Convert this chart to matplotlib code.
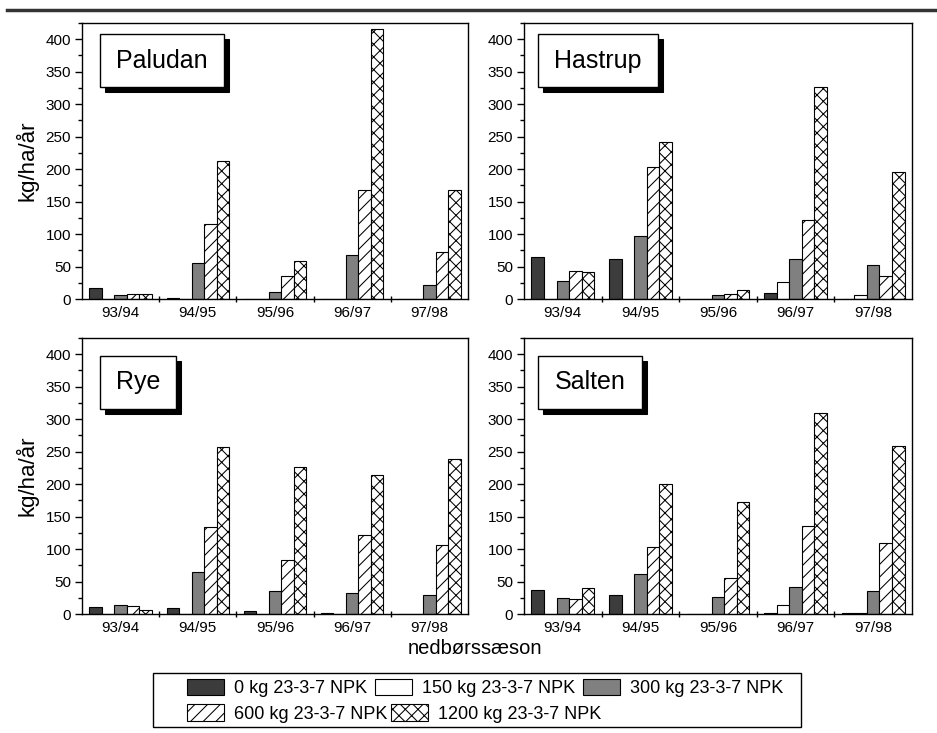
import matplotlib
matplotlib.use("Agg")
import matplotlib.pyplot as plt
import numpy as np
from matplotlib.patches import Rectangle, Patch
from matplotlib.ticker import MultipleLocator, FixedLocator

# hatch cells scale with dpi, so a lower dpi gives coarser hatching;
# S converts sizes tuned at 100 dpi to this dpi
DPI = 76
S = 100 / DPI

plt.rcParams['font.family'] = ['Liberation Sans', 'DejaVu Sans']
plt.rcParams['hatch.linewidth'] = 0.75 * S

seasons = ["93/94", "94/95", "95/96", "96/97", "97/98"]
treatments = ["0 kg 23-3-7 NPK", "150 kg 23-3-7 NPK", "300 kg 23-3-7 NPK",
              "600 kg 23-3-7 NPK", "1200 kg 23-3-7 NPK"]

# kg/ha/år per season, one list per fertiliser level
paludan = [
    [17, 1, 0, 0, 0],
    [0, 0, 0, 0, 0],
    [6, 56, 11, 68, 22],
    [8, 115, 36, 168, 72],
    [7, 212, 58, 415, 168],
]
hastrup = [
    [65, 61, 0, 9, 0],
    [0, 0, 0, 26, 6],
    [27, 97, 6, 62, 52],
    [43, 204, 8, 122, 35],
    [41, 241, 14, 327, 195],
]
rye = [
    [11, 10, 5, 1, 0],
    [0, 0, 0, 0, 0],
    [14, 65, 35, 33, 30],
    [12, 134, 83, 122, 106],
    [6, 257, 226, 214, 239],
]
salten = [
    [37, 30, 0.5, 1, 1],
    [0, 0, 0, 14, 1],
    [25, 61, 26, 41, 35],
    [23, 103, 56, 135, 110],
    [40, 200, 172, 310, 258],
]

sites = ["Paludan", "Hastrup", "Rye", "Salten"]
site_data = [paludan, hastrup, rye, salten]

facecolors = ["#3c3c3c", "white", "#808080", "white", "white"]
hatches = [None, None, None, "//", "xx"]

W, H = 937, 733
fig = plt.figure(figsize=(W / DPI, H / DPI), dpi=DPI)

# axes rectangles in pixels: left, top, right, bottom
rects = [(82, 23, 468, 299), (524, 23, 912, 299),
         (82, 338, 468, 614), (524, 338, 912, 614)]
# label boxes in axes fractions: x0, x1, y0, y1
boxes = [(0.047, 0.368, 0.768, 0.960), (0.036, 0.345, 0.768, 0.960),
         (0.047, 0.244, 0.743, 0.935), (0.036, 0.304, 0.743, 0.935)]

bar_w = 0.162
offset = 0.095
x = np.arange(len(seasons))

for i, (name, data) in enumerate(zip(sites, site_data)):
    l, t, r, b = rects[i]
    ax = fig.add_axes([l / W, 1 - b / H, (r - l) / W, (b - t) / H])
    for k in range(len(treatments)):
        ax.bar(x + offset + k * bar_w, data[k], width=bar_w, align="edge",
               color=facecolors[k], edgecolor="black", linewidth=0.8 * S,
               hatch=hatches[k])
    ax.set_xlim(0, 5)
    ax.set_ylim(0, 425)
    ax.yaxis.set_major_locator(MultipleLocator(50))
    ax.yaxis.set_minor_locator(MultipleLocator(25))
    ax.set_xticks(x + 0.5)
    ax.set_xticklabels(seasons)
    ax.tick_params(axis="x", which="major", length=0, pad=5 * S, labelsize=11 * S)
    ax.xaxis.set_minor_locator(FixedLocator([1, 2, 3, 4]))
    ax.tick_params(axis="x", which="minor", length=5 * S, direction="inout",
                   width=1 * S)
    ax.tick_params(axis="y", which="major", length=5 * S, width=1 * S,
                   labelsize=11 * S, pad=3 * S)
    ax.tick_params(axis="y", which="minor", length=3 * S, width=1 * S)
    for s in ax.spines.values():
        s.set_linewidth(1.0 * S)
    if i % 2 == 0:
        ax.set_ylabel("kg/ha/år", fontsize=16 * S, labelpad=5 * S)

    # site name in a shadowed box
    x0, x1, y0, y1 = boxes[i]
    dx, dy = 5 / (r - l), 5 / (b - t)
    ax.add_patch(Rectangle((x0 + dx, y0 - dy), x1 - x0, y1 - y0,
                           transform=ax.transAxes, facecolor="black",
                           edgecolor="black", zorder=5))
    ax.add_patch(Rectangle((x0, y0), x1 - x0, y1 - y0,
                           transform=ax.transAxes, facecolor="white",
                           edgecolor="black", linewidth=1.0 * S, zorder=6))
    ax.text((x0 + x1) / 2, (y0 + y1) / 2, name, transform=ax.transAxes,
            ha="center", va="center", fontsize=18 * S, zorder=7)

fig.text(475 / W, 1 - 649 / H, "nedbørssæson", ha="center", va="center",
         fontsize=14.5 * S)

# rule across the top of the page
fig.add_artist(plt.Line2D([7 / W, 1], [1 - 10 / H, 1 - 10 / H],
                          color="#333333", linewidth=2.5 * S))

# legend: framed block with two rows of entries
handles = [Patch(facecolor=facecolors[k], edgecolor="black", hatch=hatches[k],
                 linewidth=0.8 * S, label=treatments[k])
           for k in range(len(treatments))]
fig.add_artist(Rectangle((153 / W, 1 - 727 / H), (801 - 153) / W, 54 / H,
                         transform=fig.transFigure, facecolor="white",
                         edgecolor="black", linewidth=1.0 * S))
rows = [([0, 1, 2], 688, 0.44), ([3, 4], 713.5, 0.22)]
for idx, yc, colsp in rows:
    fig.legend([handles[k] for k in idx], [treatments[k] for k in idx],
               ncol=len(idx), loc="center left",
               bbox_to_anchor=(187 / W, 1 - yc / H), fontsize=13 * S,
               frameon=False, borderpad=0, borderaxespad=0,
               handlelength=2.05, handleheight=1.05, handletextpad=0.55,
               columnspacing=colsp)

fig.savefig("out.png", dpi=DPI)
